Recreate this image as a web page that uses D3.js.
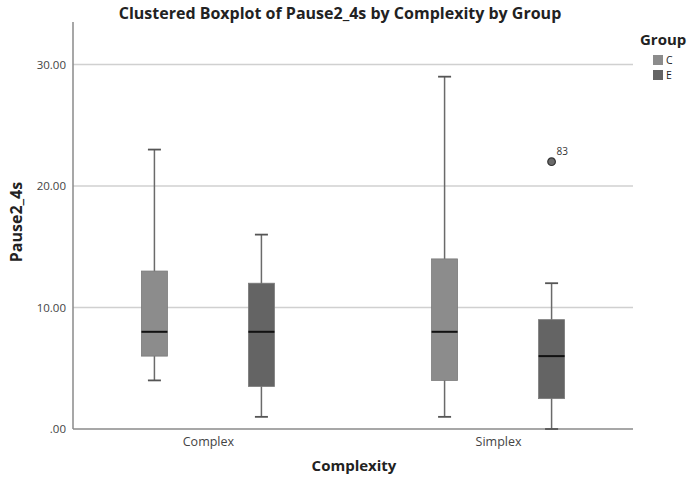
<!DOCTYPE html>
<html>
<head>
<meta charset="utf-8">
<script src="https://cdn.jsdelivr.net/npm/d3@7"></script>
<style>
  body { margin: 0; background: #fff; }
  svg text { font-family: "Open Sans", "DejaVu Sans", sans-serif; }
</style>
</head>
<body>
<div id="chart"></div>
<script>
// values
const complexity = ["Complex", "Simplex"];
const groups = ["C", "E"];
const whiskLow = [[4, 1], [1, 0]];
const q1 = [[6, 3.5], [4, 2.5]];
const median = [[8, 8], [8, 6]];
const q3 = [[13, 12], [14, 9]];
const whiskHigh = [[23, 16], [29, 12]];
const outliers = [{ cat: "Simplex", group: "E", value: 22, label: "83" }];
const yTicks = [0, 10, 20, 30];

const width = 690, height = 478;
const margin = { top: 22, right: 57, bottom: 49, left: 73 };

const svg = d3.select("#chart").append("svg")
  .attr("width", width)
  .attr("height", height);

const x = d3.scalePoint()
  .domain(complexity)
  .range([margin.left, width - margin.right])
  .padding(0.465);

const gx = d3.scaleBand()
  .domain(groups)
  .range([-107, 107]);

const y = d3.scaleLinear()
  .domain([0, 33.5])
  .range([height - margin.bottom, margin.top]);

const color = d3.scaleOrdinal().domain(groups).range(["#8c8c8c", "#646464"]);

const boxW = 26;

// grid
svg.append("g")
  .selectAll("line")
  .data(yTicks.filter(d => d > 0))
  .enter().append("line")
  .attr("x1", margin.left)
  .attr("x2", width - margin.right)
  .attr("y1", d => y(d))
  .attr("y2", d => y(d))
  .attr("stroke", "#d0d0d0")
  .attr("stroke-width", 1.5);

// y axis
const yAxis = svg.append("g")
  .attr("transform", "translate(" + margin.left + ",0)")
  .call(d3.axisLeft(y).tickValues(yTicks).tickSize(0).tickPadding(7)
    .tickFormat(d => d === 0 ? ".00" : d3.format(".2f")(d)));
yAxis.select(".domain").remove();
yAxis.selectAll("text").attr("font-size", 11.5).attr("fill", "#444");

svg.append("line")
  .attr("x1", margin.left).attr("x2", margin.left)
  .attr("y1", margin.top).attr("y2", y(0))
  .attr("stroke", "#8a8a8a").attr("stroke-width", 1.5);

// x axis
const xAxis = svg.append("g")
  .attr("transform", "translate(0," + y(0) + ")")
  .call(d3.axisBottom(x).tickSize(0).tickPadding(8));
xAxis.select(".domain").remove();
xAxis.selectAll("text").attr("font-size", 12.5).attr("fill", "#444");

svg.append("line")
  .attr("x1", margin.left).attr("x2", width - margin.right)
  .attr("y1", y(0)).attr("y2", y(0))
  .attr("stroke", "#8a8a8a").attr("stroke-width", 1.5);

// boxes
let boxes = [];
complexity.forEach((c, i) => {
  groups.forEach((g, j) => {
    boxes.push({ cat: c, group: g, lo: whiskLow[i][j], q1: q1[i][j], med: median[i][j], q3: q3[i][j], hi: whiskHigh[i][j] });
  });
});

const box = svg.selectAll("g.box")
  .data(boxes)
  .enter().append("g")
  .attr("class", "box")
  .attr("transform", d => "translate(" + (x(d.cat) + gx(d.group) + gx.bandwidth() / 2) + ",0)");

box.append("line")
  .attr("x1", 0).attr("x2", 0)
  .attr("y1", d => y(d.lo)).attr("y2", d => y(d.hi))
  .attr("stroke", "#6a6a6a").attr("stroke-width", 1.5);

box.selectAll("line.cap")
  .data(d => [d.lo, d.hi])
  .enter().append("line")
  .attr("class", "cap")
  .attr("x1", -boxW / 4).attr("x2", boxW / 4)
  .attr("y1", d => y(d)).attr("y2", d => y(d))
  .attr("stroke", "#555").attr("stroke-width", 1.8);

box.append("rect")
  .attr("x", -boxW / 2)
  .attr("width", boxW)
  .attr("y", d => y(d.q3))
  .attr("height", d => y(d.q1) - y(d.q3))
  .attr("fill", d => color(d.group))
  .attr("stroke", "#7a7a7a")
  .attr("stroke-width", 0.8);

box.append("line")
  .attr("x1", -boxW / 2).attr("x2", boxW / 2)
  .attr("y1", d => y(d.med)).attr("y2", d => y(d.med))
  .attr("stroke", "#111").attr("stroke-width", 2);

// outliers
const out = svg.selectAll("g.outlier")
  .data(outliers)
  .enter().append("g")
  .attr("class", "outlier")
  .attr("transform", d => "translate(" + (x(d.cat) + gx(d.group) + gx.bandwidth() / 2) + "," + y(d.value) + ")");

out.append("circle")
  .attr("r", 3.8)
  .attr("fill", "#6a6a6a")
  .attr("stroke", "#333")
  .attr("stroke-width", 1.2);

out.append("text")
  .attr("x", 5)
  .attr("y", -7)
  .attr("font-size", 10)
  .attr("fill", "#333")
  .text(d => d.label);

// titles
svg.append("text")
  .attr("x", 340)
  .attr("y", 19)
  .attr("text-anchor", "middle")
  .attr("font-size", 16)
  .attr("font-weight", "bold")
  .attr("fill", "#222")
  .text("Clustered Boxplot of Pause2_4s by Complexity by Group");

svg.append("text")
  .attr("transform", "translate(22,222) rotate(-90)")
  .attr("text-anchor", "middle")
  .attr("font-size", 16)
  .attr("font-weight", "bold")
  .attr("fill", "#222")
  .text("Pause2_4s");

svg.append("text")
  .attr("x", 354)
  .attr("y", 471)
  .attr("text-anchor", "middle")
  .attr("font-size", 15)
  .attr("font-weight", "bold")
  .attr("fill", "#222")
  .text("Complexity");

// legend
svg.append("text")
  .attr("x", 640)
  .attr("y", 45)
  .attr("font-size", 15)
  .attr("font-weight", "bold")
  .attr("fill", "#222")
  .text("Group");

const legend = svg.selectAll(".legend")
  .data(groups)
  .enter().append("g")
  .attr("class", "legend")
  .attr("transform", (d, i) => "translate(653," + (55 + i * 15) + ")");

legend.append("rect")
  .attr("width", 10)
  .attr("height", 10)
  .attr("fill", d => color(d));

legend.append("text")
  .attr("x", 13)
  .attr("y", 5)
  .attr("dy", ".35em")
  .attr("font-size", 10.5)
  .attr("fill", "#222")
  .text(d => d);
</script>
</body>
</html>
